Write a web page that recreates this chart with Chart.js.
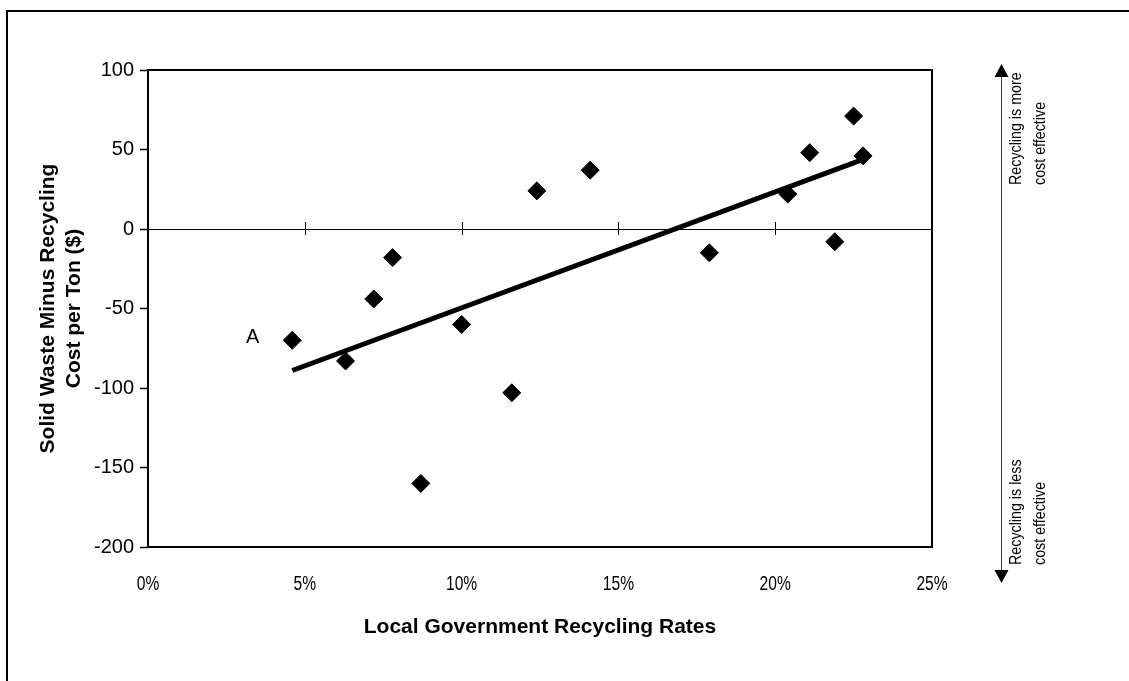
<!DOCTYPE html>
<html>
<head>
<meta charset="utf-8">
<title>Recycling rates vs cost per ton</title>
<script src="https://cdn.jsdelivr.net/npm/chart.js@4.4.1/dist/chart.umd.min.js"></script>
<style>
  html, body { margin: 0; padding: 0; background: #fff; }
  #wrap { position: relative; width: 1129px; height: 681px; }
</style>
</head>
<body>
<div id="wrap"><canvas id="recycleChart" width="1129" height="681"></canvas></div>
<script>
// values (x = recycling rate in %, y = $ per ton)
const recyclingRates = [4.6, 6.3, 7.2, 7.8, 8.7, 10.0, 11.6, 12.4, 14.1, 17.9, 20.4, 21.1, 21.9, 22.5, 22.8];
const costDiff = [-70, -83, -44, -18, -160, -60, -103, 24, 37, -15, 22, 48, -8, 71, 46];

// trend line end points
const trendRates = [4.6, 22.7];
const trendCosts = [-89, 43];

const xTicks = [0, 5, 10, 15, 20, 25];
const yTicks = [100, 50, 0, -50, -100, -150, -200];

const xTitle = 'Local Government Recycling Rates';
const yTitle = ['Solid Waste Minus Recycling', 'Cost per Ton ($)'];
const pointLabel = 'A';
const noteUp = ['Recycling is more', 'cost effective'];
const noteDown = ['Recycling is less', 'cost effective'];

const regular = '"Liberation Sans", Arial, sans-serif';
const pct = v => v + '%';

// --- extra drawing: frame, zero line ticks, narrow x labels, "A", arrows on the right
const decorPlugin = {
    id: 'decor',
    afterDraw(chart) {
        const { ctx, chartArea: a, scales: { x, y } } = chart;
        ctx.save();
        ctx.strokeStyle = '#000';

        // plot box
        ctx.lineWidth = 2;
        ctx.strokeRect(a.left, a.top, a.right - a.left, a.bottom - a.top);

        // page frame (top + left only)
        ctx.beginPath();
        ctx.moveTo(7, 681);
        ctx.lineTo(7, 11);
        ctx.lineTo(1129, 11);
        ctx.stroke();

        // small tick marks crossing the zero line
        const y0 = y.getPixelForValue(0);
        ctx.lineWidth = 1;
        x.ticks.forEach(t => {
            if (t.value <= x.min || t.value >= x.max) return;
            const px = Math.round(x.getPixelForValue(t.value)) + 0.5;
            ctx.beginPath();
            ctx.moveTo(px, y0 - 7);
            ctx.lineTo(px, y0 + 6);
            ctx.stroke();
        });

        // x tick labels, condensed like the scan (Arial Narrow look)
        ctx.fillStyle = '#000';
        ctx.font = '20px ' + regular;
        ctx.textAlign = 'center';
        ctx.textBaseline = 'middle';
        x.ticks.forEach(t => {
            ctx.save();
            ctx.translate(x.getPixelForValue(t.value), a.bottom + 37);
            ctx.scale(0.78, 1);
            ctx.fillText(pct(t.value), 0, 0);
            ctx.restore();
        });

        // label next to the first point
        ctx.textAlign = 'right';
        ctx.fillText(pointLabel, x.getPixelForValue(recyclingRates[0]) - 33, y.getPixelForValue(costDiff[0]) - 3);

        // arrow on the right side
        const ax = a.right + 69.5;
        const tipTop = a.top - 6;
        const tipBottom = a.bottom + 36;
        ctx.strokeStyle = '#444';
        ctx.lineWidth = 1;
        ctx.beginPath();
        ctx.moveTo(ax, tipTop + 10);
        ctx.lineTo(ax, tipBottom - 10);
        ctx.stroke();
        ctx.beginPath();
        ctx.moveTo(ax, tipTop);
        ctx.lineTo(ax - 7, tipTop + 13);
        ctx.lineTo(ax + 7, tipTop + 13);
        ctx.closePath();
        ctx.fill();
        ctx.beginPath();
        ctx.moveTo(ax, tipBottom);
        ctx.lineTo(ax - 7, tipBottom - 13);
        ctx.lineTo(ax + 7, tipBottom - 13);
        ctx.closePath();
        ctx.fill();

        // rotated notes
        ctx.font = '17px ' + regular;
        ctx.textAlign = 'left';
        const drawNote = (lines, startY) => {
            ctx.save();
            ctx.translate(a.right + 84, startY);
            ctx.rotate(-Math.PI / 2);
            ctx.scale(0.84, 1);
            lines.forEach((t, i) => ctx.fillText(t, 0, i * 24));
            ctx.restore();
        };
        drawNote(noteUp, a.top + 115);
        drawNote(noteDown, a.bottom + 18);

        ctx.restore();
    }
};

new Chart(document.getElementById('recycleChart'), {
    type: 'scatter',
    data: {
        datasets: [
            {
                type: 'line',
                label: 'trend',
                data: trendRates.map((r, i) => ({ x: r, y: trendCosts[i] })),
                borderColor: '#000',
                borderWidth: 5,
                pointRadius: 0,
                fill: false
            },
            {
                label: 'cities',
                data: recyclingRates.map((r, i) => ({ x: r, y: costDiff[i] })),
                pointStyle: 'rectRot',
                pointRadius: 9,
                pointHoverRadius: 9,
                backgroundColor: '#000',
                borderColor: '#000',
                borderWidth: 1
            }
        ]
    },
    options: {
        responsive: false,
        animation: false,
        layout: { padding: { left: 0, top: 70, right: 197, bottom: 0 } },
        plugins: { legend: { display: false }, tooltip: { enabled: false } },
        scales: {
            x: {
                type: 'linear',
                min: 0,
                max: 25,
                afterBuildTicks: s => { s.ticks = xTicks.map(v => ({ value: v })); },
                afterFit: s => { s.height = 134; },
                grid: { display: false, drawTicks: false },
                border: { display: false },
                ticks: { display: false, callback: pct },
                title: {
                    display: true,
                    text: xTitle,
                    color: '#000',
                    font: { family: regular, size: 21, weight: 'bold' },
                    padding: { top: 0, bottom: 41 }
                }
            },
            y: {
                min: -200,
                max: 100,
                afterBuildTicks: s => { s.ticks = yTicks.map(v => ({ value: v })); },
                afterFit: s => { s.width = 148; },
                grid: {
                    color: c => (c.tick && c.tick.value === 0) ? '#000' : 'rgba(0,0,0,0)',
                    lineWidth: 1,
                    tickColor: '#000',
                    tickLength: 8,
                    tickWidth: 1.5
                },
                border: { display: false },
                ticks: {
                    padding: 6,
                    color: '#000',
                    font: { family: regular, size: 20 }
                },
                title: {
                    display: true,
                    text: yTitle,
                    color: '#000',
                    font: { family: regular, size: 21, weight: 'bold', lineHeight: 1.25 },
                    padding: { top: 35, bottom: 0 }
                }
            }
        }
    },
    plugins: [decorPlugin]
});
</script>
</body>
</html>
